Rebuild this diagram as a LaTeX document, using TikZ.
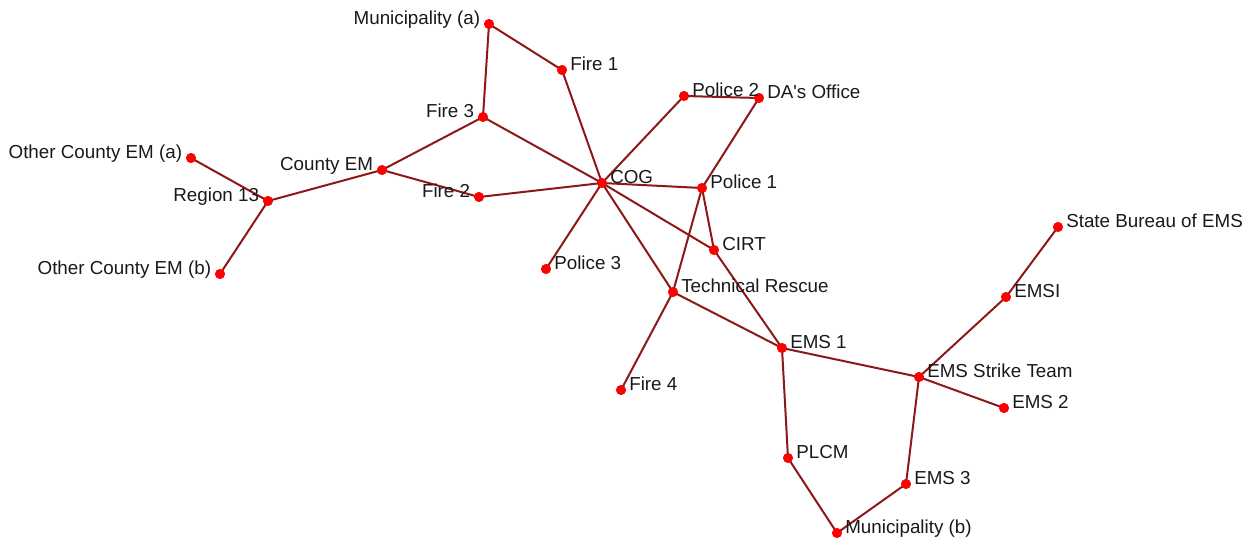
\documentclass[tikz,border=0pt]{standalone}
\usepackage{fontspec}
\setmainfont{Liberation Sans}
\definecolor{edgered}{RGB}{140,24,24}
\definecolor{dotred}{RGB}{255,0,0}
\begin{document}
\begin{tikzpicture}[x=0.75pt,y=-0.75pt,
  vtx/.style={circle,fill=dotred,inner sep=0pt,minimum size=7.4pt},
  lblR/.style={anchor=base west,inner sep=0pt,xshift=6pt,font=\fontsize{14.1}{16}\selectfont,text=black!90},
  lblL/.style={anchor=base east,inner sep=0pt,xshift=-6.5pt,font=\fontsize{14.1}{16}\selectfont,text=black!90},
  link/.style={draw=edgered,line width=1.5pt}]
\useasboundingbox (0,0) rectangle (1254,539);

% vertices
\node[vtx] (muna) at (489,24) {};
\node[vtx] (fire1) at (562,70) {};
\node[vtx] (pol2) at (684,96) {};
\node[vtx] (da) at (759,98) {};
\node[vtx] (fire3) at (483,117) {};
\node[vtx] (ocema) at (191,158) {};
\node[vtx] (cem) at (382,170) {};
\node[vtx] (cog) at (602,183) {};
\node[vtx] (pol1) at (702,188) {};
\node[vtx] (fire2) at (479,197) {};
\node[vtx] (reg13) at (268,201) {};
\node[vtx] (cirt) at (714,250) {};
\node[vtx] (pol3) at (546,269) {};
\node[vtx] (ocemb) at (220,274) {};
\node[vtx] (tres) at (673,292) {};
\node[vtx] (sbems) at (1058,227) {};
\node[vtx] (emsi) at (1006,297) {};
\node[vtx] (ems1) at (782,348) {};
\node[vtx] (est) at (919,377) {};
\node[vtx] (ems2) at (1004,408) {};
\node[vtx] (fire4) at (621,390) {};
\node[vtx] (plcm) at (788,458) {};
\node[vtx] (ems3) at (906,484) {};
\node[vtx] (munb) at (837,533) {};

% connections
\draw[link] (muna.center) -- (fire1.center);
\draw[link] (muna.center) -- (fire3.center);
\draw[link] (fire1.center) -- (cog.center);
\draw[link] (fire3.center) -- (cog.center);
\draw[link] (fire3.center) -- (cem.center);
\draw[link] (cem.center) -- (reg13.center);
\draw[link] (cem.center) -- (fire2.center);
\draw[link] (reg13.center) -- (ocema.center);
\draw[link] (reg13.center) -- (ocemb.center);
\draw[link] (fire2.center) -- (cog.center);
\draw[link] (cog.center) -- (pol2.center);
\draw[link] (pol2.center) -- (da.center);
\draw[link] (da.center) -- (pol1.center);
\draw[link] (cog.center) -- (pol1.center);
\draw[link] (cog.center) -- (cirt.center);
\draw[link] (cog.center) -- (tres.center);
\draw[link] (cog.center) -- (pol3.center);
\draw[link] (pol1.center) -- (tres.center);
\draw[link] (pol1.center) -- (cirt.center);
\draw[link] (cirt.center) -- (ems1.center);
\draw[link] (tres.center) -- (ems1.center);
\draw[link] (tres.center) -- (fire4.center);
\draw[link] (ems1.center) -- (est.center);
\draw[link] (ems1.center) -- (plcm.center);
\draw[link] (est.center) -- (emsi.center);
\draw[link] (emsi.center) -- (sbems.center);
\draw[link] (est.center) -- (ems2.center);
\draw[link] (est.center) -- (ems3.center);
\draw[link] (ems3.center) -- (munb.center);
\draw[link] (plcm.center) -- (munb.center);

% vertex dots drawn over the connections
\foreach \v in {muna,fire1,pol2,da,fire3,ocema,cem,cog,pol1,fire2,reg13,cirt,pol3,ocemb,tres,sbems,emsi,ems1,est,ems2,fire4,plcm,ems3,munb}
  \fill[dotred] (\v.center) circle (3.7pt);

% labels
\node[lblL] (muna-t) at (muna.center) {Municipality (a)};
\node[lblR] (fire1-t) at (fire1.center) {Fire 1};
\node[lblR] (pol2-t) at (pol2.center) {Police 2};
\node[lblR] (da-t) at (da.center) {DA\textquotesingle s Office};
\node[lblL] (fire3-t) at (fire3.center) {Fire 3};
\node[lblL] (ocema-t) at (ocema.center) {Other County EM (a)};
\node[lblL] (cem-t) at (cem.center) {County EM};
\node[lblR] (cog-t) at (cog.center) {COG};
\node[lblR] (pol1-t) at (pol1.center) {Police 1};
\node[lblL] (fire2-t) at (fire2.center) {Fire 2};
\node[lblL] (reg13-t) at (reg13.center) {Region 13};
\node[lblR] (cirt-t) at (cirt.center) {CIRT};
\node[lblR] (pol3-t) at (pol3.center) {Police 3};
\node[lblL] (ocemb-t) at (ocemb.center) {Other County EM (b)};
\node[lblR] (tres-t) at (tres.center) {Technical Rescue};
\node[lblR] (sbems-t) at (sbems.center) {State Bureau of EMS};
\node[lblR] (emsi-t) at (emsi.center) {EMSI};
\node[lblR] (ems1-t) at (ems1.center) {EMS 1};
\node[lblR] (est-t) at (est.center) {EMS Strike Team};
\node[lblR] (ems2-t) at (ems2.center) {EMS 2};
\node[lblR] (fire4-t) at (fire4.center) {Fire 4};
\node[lblR] (plcm-t) at (plcm.center) {PLCM};
\node[lblR] (ems3-t) at (ems3.center) {EMS 3};
\node[lblR] (munb-t) at (munb.center) {Municipality (b)};
\end{tikzpicture}
\end{document}
